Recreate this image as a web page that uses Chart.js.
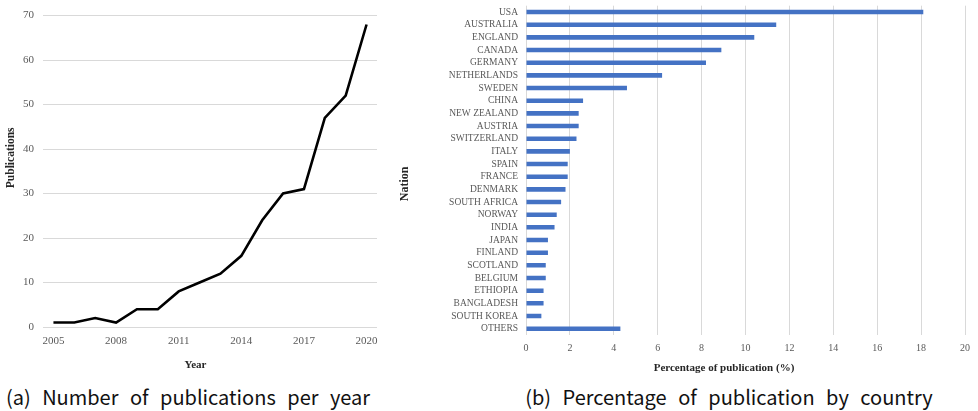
<!DOCTYPE html>
<html>
<head>
<meta charset="utf-8">
<script src="https://cdn.jsdelivr.net/npm/chart.js@4.4.1/dist/chart.umd.min.js"></script>
<style>
  html, body { margin: 0; padding: 0; background: #fff; }
  #page { position: relative; width: 978px; height: 411px; overflow: hidden; background: #fff; }
  .box { position: absolute; top: 0; height: 380px; }
  #boxA { left: 0; width: 385px; }
  #boxB { left: 385px; width: 593px; }
  .cap { position: absolute; top: 382px; font-family: "Noto Sans CJK KR", "Noto Sans", sans-serif; font-size: 20px; color: #111; white-space: nowrap; word-spacing: 7px; transform: translateX(-50%); }
</style>
</head>
<body>
<div id="page">
  <div class="box" id="boxA"><canvas id="chartA"></canvas></div>
  <div class="box" id="boxB"><canvas id="chartB"></canvas></div>
  <div class="cap" style="left:188px">(a) Number of publications per year</div>
  <div class="cap" style="left:729px">(b) Percentage of publication by country</div>
</div>
<script>
// ---- Data: (a) publications per year ----
const years = ['2005','2006','2007','2008','2009','2010','2011','2012','2013','2014','2015','2016','2017','2018','2019','2020'];
const publications = [1, 1, 2, 1, 4, 4, 8, 10, 12, 16, 24, 30, 31, 47, 52, 68];
const yearTicksShown = ['2005','2008','2011','2014','2017','2020'];
const pubAxisTitle = 'Publications';
const yearAxisTitle = 'Year';

// ---- Data: (b) percentage by country ----
const nations = ['USA','AUSTRALIA','ENGLAND','CANADA','GERMANY','NETHERLANDS','SWEDEN','CHINA','NEW ZEALAND','AUSTRIA','SWITZERLAND','ITALY','SPAIN','FRANCE','DENMARK','SOUTH AFRICA','NORWAY','INDIA','JAPAN','FINLAND','SCOTLAND','BELGIUM','ETHIOPIA','BANGLADESH','SOUTH KOREA','OTHERS'];
const percentages = [18.1, 11.4, 10.4, 8.9, 8.2, 6.2, 4.6, 2.6, 2.4, 2.4, 2.3, 2.0, 1.9, 1.9, 1.8, 1.6, 1.4, 1.3, 1.0, 1.0, 0.9, 0.9, 0.8, 0.8, 0.7, 4.3];
const nationAxisTitle = 'Nation';
const pctAxisTitle = 'Percentage of publication (%)';

const SERIF = '"Liberation Serif", "Times New Roman", serif';
const TICK = '#595959';
const GRID = '#d9d9d9';

// Axis-title plugin: draws titles offset from the chart area centre (like the Excel original)
function axisTitles(cfg) {
  return {
    id: 'axisTitles',
    afterDraw(chart) {
      const ctx = chart.ctx, a = chart.chartArea;
      ctx.save();
      ctx.fillStyle = '#262626';
      ctx.font = 'bold ' + cfg.size + 'px ' + SERIF;
      ctx.textAlign = 'center';
      ctx.textBaseline = 'middle';
      ctx.fillText(cfg.xText, (a.left + a.right) / 2 + cfg.xShift, cfg.xY);
      ctx.translate(cfg.yX, (a.top + a.bottom) / 2 + cfg.yShift);
      ctx.rotate(-Math.PI / 2);
      ctx.font = 'bold ' + cfg.ySize + 'px ' + SERIF;
      ctx.fillText(cfg.yText, 0, 0);
      ctx.restore();
    }
  };
}

new Chart(document.getElementById('chartA'), {
  type: 'line',
  data: {
    labels: years,
    datasets: [{
      data: publications,
      borderColor: '#000',
      borderWidth: 2.6,
      pointRadius: 0,
      tension: 0,
      fill: false
    }]
  },
  options: {
    responsive: true,
    maintainAspectRatio: false,
    animation: false,
    layout: { padding: { top: 15, right: 8, left: 0, bottom: 0 } },
    plugins: { legend: { display: false }, tooltip: { enabled: false } },
    scales: {
      x: {
        type: 'category',
        offset: true,
        grid: { display: false, drawTicks: true, tickLength: 8 },
        border: { display: false },
        ticks: {
          autoSkip: false, maxRotation: 0, padding: 0, color: TICK,
          font: { family: SERIF, size: 11 },
          callback: function(v) { const l = this.getLabelForValue(v); return yearTicksShown.includes(l) ? l : ''; }
        },
        afterFit(s) { s.height = 53; }
      },
      y: {
        min: 0, max: 70,
        grid: { color: GRID, lineWidth: 1, drawTicks: false },
        border: { display: false },
        ticks: { stepSize: 10, padding: 9, color: TICK, font: { family: SERIF, size: 11 } },
        afterFit(s) { s.width = 43; }
      }
    }
  },
  plugins: [axisTitles({ xText: yearAxisTitle, yText: pubAxisTitle, size: 11, ySize: 11.5, xShift: -14.5, xY: 365, yX: 11, yShift: -13.5 })]
});

new Chart(document.getElementById('chartB'), {
  type: 'bar',
  data: {
    labels: nations,
    datasets: [{
      data: percentages,
      backgroundColor: '#4472C4',
      borderWidth: 0,
      barPercentage: 0.36,
      categoryPercentage: 1
    }]
  },
  options: {
    indexAxis: 'y',
    responsive: true,
    maintainAspectRatio: false,
    animation: false,
    layout: { padding: { top: 5, right: 13, left: 0, bottom: 0 } },
    plugins: { legend: { display: false }, tooltip: { enabled: false } },
    scales: {
      x: {
        min: 0, max: 20,
        grid: { color: GRID, lineWidth: 1, drawTicks: false },
        border: { display: false },
        ticks: { stepSize: 2, padding: 7, color: TICK, font: { family: SERIF, size: 10 } },
        afterFit(s) { s.height = 45; }
      },
      y: {
        grid: { display: false, drawTicks: true, tickLength: 8 },
        border: { display: false },
        ticks: { autoSkip: false, padding: 0, color: TICK, font: { family: SERIF, size: 9.5 } },
        afterFit(s) { s.width = 141; }
      }
    }
  },
  plugins: [axisTitles({ xText: pctAxisTitle, yText: nationAxisTitle, size: 11, ySize: 12, xShift: -21.5, xY: 368, yX: 19.5, yShift: 13.5 })]
});
</script>
</body>
</html>
